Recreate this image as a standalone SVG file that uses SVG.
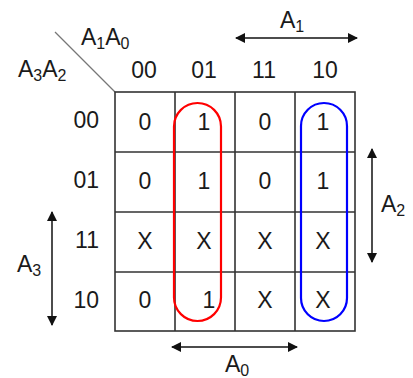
<svg xmlns="http://www.w3.org/2000/svg" width="413" height="378" viewBox="0 0 413 378">
<defs>
<style>
text{font-family:"Liberation Sans",Arial,sans-serif;font-size:23px;fill:#1a1a1a}
.c{text-anchor:middle}
.r{text-anchor:end}
.sub{font-size:16px}
.grid{stroke:#333;stroke-width:1.6;fill:none}
.arr{stroke:#111;stroke-width:1.5;fill:none;marker-start:url(#ah);marker-end:url(#ah)}
</style>
<marker id="ah" viewBox="0 0 10 10" refX="9" refY="5" markerWidth="10" markerHeight="10" markerUnits="userSpaceOnUse" orient="auto-start-reverse">
<path d="M0,0 L10,5 L0,10 z" fill="#111"/>
</marker>
</defs>
<rect width="413" height="378" fill="#fff"/>
<g id="headers">
<line x1="55" y1="32" x2="115" y2="92" stroke="#777" stroke-width="1.3"/>
<text x="81" y="45">A<tspan class="sub" dy="4">1</tspan><tspan dy="-4">A</tspan><tspan class="sub" dy="4">0</tspan></text>
<text x="18" y="77">A<tspan class="sub" dy="4">3</tspan><tspan dy="-4">A</tspan><tspan class="sub" dy="4">2</tspan></text>
<text class="c" x="144" y="78">00</text>
<text class="c" x="204" y="78">01</text>
<text class="c" x="264" y="78">11</text>
<text class="c" x="325" y="78">10</text>
<text class="r" x="99" y="128">00</text>
<text class="r" x="99" y="188">01</text>
<text class="r" x="99" y="248">11</text>
<text class="r" x="99" y="308">10</text>
</g>
<g id="grid">
<rect class="grid" x="115" y="92" width="240" height="239"/>
<path class="grid" d="M175,92V331M235,92V331M295,92V331M115,152H355M115,212H355M115,272H355"/>
</g>
<g id="cells">
<text class="c" x="145" y="130">0</text><text class="c" x="204" y="130">1</text><text class="c" x="265" y="130">0</text><text class="c" x="323" y="130">1</text>
<text class="c" x="145" y="189">0</text><text class="c" x="204" y="189">1</text><text class="c" x="265" y="189">0</text><text class="c" x="323" y="189">1</text>
<text class="c" x="145" y="249">X</text><text class="c" x="204" y="249">X</text><text class="c" x="265" y="249">X</text><text class="c" x="323" y="249">X</text>
<text class="c" x="145" y="308">0</text><text class="c" x="209" y="308">1</text><text class="c" x="265" y="308">X</text><text class="c" x="323" y="308">X</text>
</g>
<g id="groups">
<rect x="174" y="103" width="47" height="218" rx="23.5" ry="23.5" fill="none" stroke="#f00" stroke-width="2.2"/>
<rect x="301" y="103" width="46" height="218" rx="23" ry="23" fill="none" stroke="#00f" stroke-width="2.2"/>
</g>
<g id="connectors">
<line class="arr" x1="236" y1="38" x2="357" y2="38"/>
<line class="arr" x1="372" y1="149" x2="372" y2="262"/>
<line class="arr" x1="52" y1="212" x2="52" y2="325"/>
<line class="arr" x1="172" y1="347" x2="297" y2="347"/>
</g>
<g id="axis-labels">
<text x="280" y="28">A<tspan class="sub" dy="4">1</tspan></text>
<text x="381" y="212">A<tspan class="sub" dy="4">2</tspan></text>
<text x="17" y="272">A<tspan class="sub" dy="4">3</tspan></text>
<text x="225" y="372">A<tspan class="sub" dy="4">0</tspan></text>
</g>
</svg>
